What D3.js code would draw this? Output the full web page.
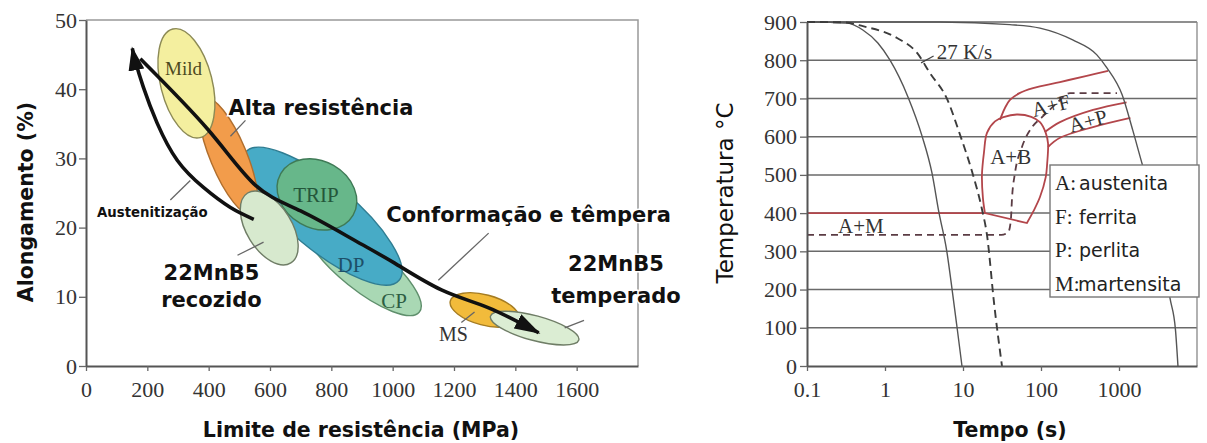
<!DOCTYPE html>
<html><head><meta charset="utf-8">
<script src="https://cdn.jsdelivr.net/npm/d3@7"></script>
<style>
html,body{margin:0;padding:0;background:#fff;}
svg{display:block;}
</style></head>
<body>
<svg id="chart" width="1207" height="443"></svg>
<script>
// ---------- Left panel: elongation vs tensile strength ----------
const strengthTicks = [0, 200, 400, 600, 800, 1000, 1200, 1400, 1600];
const elongationTicks = [0, 10, 20, 30, 40, 50];

// steel families, drawn back to front
const steelNames = ["CP", "DP", "TRIP", "HSS", "Mild", "22MnB5 recozido", "MS", "22MnB5 temperado"];
// ends of each family's long axis [MPa, %]
const steelAxisStart = [[717, 21.0], [520, 30.9], [635, 27.8], [386, 38.7], [283, 48.7], [527, 25.0], [1188, 9.4], [1319, 7.2]];
const steelAxisEnd   = [[1087, 7.8], [1021, 12.4], [871, 21.8], [543, 21.9], [372, 33.0], [668, 14.9], [1411, 6.8], [1607, 3.75]];
// short axis / long axis
const steelSpread = [0.32, 0.33, 0.8, 0.29, 0.46, 0.55, 0.43, 0.27];

// process arrows [MPa, %]
const austenitizing = [[547, 21.2], [471, 22.9], [383, 25.8], [298, 29.7], [232, 35.1], [187, 40.3], [160, 44.2], [151, 45.9]];
const formingQuench = [[177, 44.4], [399, 34.1], [553, 26.1], [700, 22.4], [874, 18.2], [1005, 14.9], [1159, 11.0], [1313, 8.4], [1476, 4.8]];

// ---------- Right panel: CCT diagram ----------
const tempTicks = [0, 100, 200, 300, 400, 500, 600, 700, 800, 900];
const timeTicks = [0.1, 1, 10, 100, 1000];

// cooling curves [s, °C]
const fastCooling = [[0.1, 900], [0.2, 899], [0.33, 897], [0.52, 879], [0.81, 845], [1.16, 800], [1.97, 704], [2.98, 602], [4.0, 505], [4.9, 403], [6.2, 300], [7.25, 200], [8.4, 100], [9.7, 0]];
const cooling27 = [[0.1, 900], [0.3, 899], [0.52, 889], [1.43, 858], [2.58, 819], [3.78, 766], [6.2, 700], [9.16, 605], [13.0, 510], [17.5, 410], [20.3, 343], [25, 165], [31.6, 0]];
const slowCooling = [[0.1, 900], [5, 900], [40, 893], [97, 884], [255, 853], [520, 814], [700, 780], [1100, 709], [1500, 617], [2000, 526], [3100, 400], [4500, 178], [5300, 94], [5700, 0]];

// transformation lines [s, °C]
const martensiteStart = [[0.1, 400], [19, 400]];
const bainiteField = [[19.1, 400], [18.0, 440], [17.5, 500], [18.6, 560], [20.3, 610], [25.7, 640], [33, 651], [49, 658], [75, 652], [97, 638], [115, 610], [123, 583], [120, 530], [115, 494], [97, 442], [80, 405], [66, 374]];
const ferriteStart = [[29.8, 644], [34.5, 675], [40, 696], [53, 714], [79, 727], [175, 743], [386, 759], [723, 772]];
const pearliteStart = [[112, 612], [175, 638], [464, 670], [1250, 690]];
const pearliteFinish = [[123, 573], [175, 597], [464, 625], [1400, 649]];
const msDashed = [[0.1, 343], [31, 343], [38, 350], [41, 380], [42.6, 442], [46.4, 505], [57, 573], [77, 625], [103, 651], [151, 683], [235, 714], [943, 714]];

const legendKeys = ["A:", "F:", "P:", "M:"];
const legendNames = ["austenita", "ferrita", "perlita", "martensita"];

// ---------------------------------------------------------------
const svg = d3.select("#chart");
const SANS = "DejaVu Sans";
const SERIF = "Liberation Serif";

const fills = {"CP": "#a9d8b4", "DP": "#47abc6", "TRIP": "#67b78a", "HSS": "#f29c4b", "Mild": "#f4ef9f",
  "22MnB5 recozido": "#d7e9ce", "MS": "#f2bb3b", "22MnB5 temperado": "#dbedd3"};
const strokes = {"CP": "#5f8f6c", "DP": "#2f7d92", "TRIP": "#3f7a56", "HSS": "#b06e2d", "Mild": "#8c8a55",
  "22MnB5 recozido": "#6f7d66", "MS": "#a57c22", "22MnB5 temperado": "#6f7d66"};

const xL = d3.scaleLinear().domain([0, 1800]).range([86, 638]);
const yL = d3.scaleLinear().domain([0, 50]).range([366, 20]);

const left = svg.append("g");

// frame
left.append("path")
  .attr("d", `M${xL(0)},${yL(50)}H${xL(1800)}V${yL(0)}`)
  .attr("fill", "none").attr("stroke", "#999").attr("stroke-width", 1.5);

// steel family regions
steelNames.forEach((name, i) => {
  const p1 = [xL(steelAxisStart[i][0]), yL(steelAxisStart[i][1])];
  const p2 = [xL(steelAxisEnd[i][0]), yL(steelAxisEnd[i][1])];
  const cx = (p1[0] + p2[0]) / 2, cy = (p1[1] + p2[1]) / 2;
  const a = Math.hypot(p2[0] - p1[0], p2[1] - p1[1]) / 2;
  const ang = Math.atan2(p2[1] - p1[1], p2[0] - p1[0]) * 180 / Math.PI;
  left.append("ellipse")
    .attr("transform", `translate(${cx},${cy}) rotate(${ang})`)
    .attr("rx", a).attr("ry", a * steelSpread[i])
    .attr("fill", fills[name]).attr("stroke", strokes[name]).attr("stroke-width", 1.4);
});

// labels inside regions
const regionLabels = [
  {t: "Mild", v: [318, 42.0], c: "#4d4a1e", s: 19},
  {t: "TRIP", v: [750, 23.7], c: "#24563a", s: 21},
  {t: "DP", v: [864, 13.6], c: "#1d4f68", s: 21},
  {t: "CP", v: [1005, 8.4], c: "#2d5e43", s: 21},
  {t: "MS", v: [1198, 3.6], c: "#333", s: 20}
];
regionLabels.forEach(d => {
  left.append("text").attr("x", xL(d.v[0])).attr("y", yL(d.v[1]))
    .attr("text-anchor", "middle").attr("font-family", SERIF).attr("font-size", d.s)
    .attr("fill", d.c).text(d.t);
});

// leader lines [MPa, %]
const leaders = [
  [[520, 35.5], [471, 33.2]],
  [[340, 26.8], [275, 24.0]],
  [[1313, 19.2], [1149, 12.4]],
  [[579, 17.9], [494, 16.0]],
  [[1624, 6.6], [1561, 5.5]],
  [[1224, 6.3], [1267, 7.8]]
];
leaders.forEach(l => {
  left.append("line").attr("x1", xL(l[0][0])).attr("y1", yL(l[0][1]))
    .attr("x2", xL(l[1][0])).attr("y2", yL(l[1][1]))
    .attr("stroke", "#666").attr("stroke-width", 1.3);
});

// arrowheads
const defs = svg.append("defs");
defs.append("marker").attr("id", "headUp").attr("viewBox", "0 0 24 16")
  .attr("refX", 22).attr("refY", 8).attr("markerWidth", 24).attr("markerHeight", 16)
  .attr("markerUnits", "userSpaceOnUse").attr("orient", "auto")
  .append("path").attr("d", "M0,0L24,8L0,16Z").attr("fill", "#111");
defs.append("marker").attr("id", "headDown").attr("viewBox", "0 0 26 16")
  .attr("refX", 24).attr("refY", 8).attr("markerWidth", 26).attr("markerHeight", 16)
  .attr("markerUnits", "userSpaceOnUse").attr("orient", "auto")
  .append("path").attr("d", "M0,0L26,8L0,16Z").attr("fill", "#111");

const arrowLine = d3.line().x(d => xL(d[0])).y(d => yL(d[1])).curve(d3.curveNatural);
left.append("path").attr("d", arrowLine(austenitizing))
  .attr("fill", "none").attr("stroke", "#111").attr("stroke-width", 3.6)
  .attr("marker-end", "url(#headUp)");
left.append("path").attr("d", arrowLine(formingQuench))
  .attr("fill", "none").attr("stroke", "#111").attr("stroke-width", 3.6)
  .attr("marker-end", "url(#headDown)");

// annotation texts
const notes = [
  {t: "Alta resistência", v: [465, 36.2], a: "start", s: 21},
  {t: "Austenitização", v: [36, 21.5], a: "start", s: 13.3},
  {t: "Conformação e têmpera", v: [979, 20.8], a: "start", s: 21},
  {t: "22MnB5", v: [409, 12.4], a: "middle", s: 21},
  {t: "recozido", v: [409, 8.5], a: "middle", s: 21},
  {t: "22MnB5", v: [1728, 13.7], a: "middle", s: 21},
  {t: "temperado", v: [1728, 9.1], a: "middle", s: 21}
];
notes.forEach(d => {
  left.append("text").attr("x", xL(d.v[0])).attr("y", yL(d.v[1]))
    .attr("text-anchor", d.a).attr("font-family", SANS).attr("font-weight", "bold")
    .attr("font-size", d.s).attr("fill", "#111")
    .attr("paint-order", "stroke").attr("stroke", "#fff").attr("stroke-width", 3)
    .text(d.t);
});

// axes
function styleAxis(g) {
  g.select(".domain").attr("stroke", "#555").attr("stroke-width", 2);
  g.selectAll(".tick line").attr("stroke", "#666").attr("stroke-width", 1.3);
  g.selectAll(".tick text").attr("font-family", SERIF).attr("font-size", 22).attr("fill", "#333");
}
left.append("g").attr("transform", `translate(0,${yL(0)})`)
  .call(d3.axisBottom(xL).tickValues(strengthTicks).tickFormat(d => String(d))
    .tickSize(5).tickSizeOuter(0).tickPadding(10))
  .call(styleAxis);
left.append("g").attr("transform", `translate(${xL(0)},0)`)
  .call(d3.axisLeft(yL).tickValues(elongationTicks).tickSize(7).tickSizeOuter(0).tickPadding(2))
  .call(styleAxis);

left.append("text").attr("transform", `translate(33,202) rotate(-90)`)
  .attr("text-anchor", "middle").attr("font-family", SANS).attr("font-weight", "bold")
  .attr("font-size", 20.5).attr("fill", "#111").text("Alongamento (%)");
left.append("text").attr("x", 361).attr("y", 437)
  .attr("text-anchor", "middle").attr("font-family", SANS).attr("font-weight", "bold")
  .attr("font-size", 20.5).attr("fill", "#111").text("Limite de resistência (MPa)");

// ---------- right panel ----------
const xR = d3.scaleLog().domain([0.1, 10000]).range([807, 1197]);
const yR = d3.scaleLinear().domain([0, 900]).range([366, 22]);
const right = svg.append("g");

// horizontal grid and frame
right.selectAll("line.grid").data(tempTicks.filter(t => t > 0)).join("line")
  .attr("x1", xR(0.1)).attr("x2", xR(10000))
  .attr("y1", d => yR(d)).attr("y2", d => yR(d))
  .attr("stroke", "#6a6a6a").attr("stroke-width", 1.5);
right.append("line").attr("x1", xR(10000)).attr("x2", xR(10000))
  .attr("y1", yR(900)).attr("y2", yR(0)).attr("stroke", "#888").attr("stroke-width", 1.3);

const cct = d3.line().x(d => xR(d[0])).y(d => yR(d[1])).curve(d3.curveMonotoneX);
const smooth = d3.line().x(d => xR(d[0])).y(d => yR(d[1])).curve(d3.curveCatmullRom.alpha(0.5));

const RED = "#b3464b";
// transformation lines
right.append("path").attr("d", cct(martensiteStart)).attr("fill", "none")
  .attr("stroke", RED).attr("stroke-width", 1.8);
right.append("path").attr("d", smooth(bainiteField) + "Z").attr("fill", "none")
  .attr("stroke", RED).attr("stroke-width", 1.8);
[ferriteStart, pearliteStart, pearliteFinish].forEach(s => {
  right.append("path").attr("d", smooth(s)).attr("fill", "none")
    .attr("stroke", RED).attr("stroke-width", 1.8);
});
right.append("path").attr("d", cct(msDashed)).attr("fill", "none")
  .attr("stroke", "#5b3c44").attr("stroke-width", 1.8).attr("stroke-dasharray", "7,5");

// cooling curves
right.append("path").attr("d", cct(fastCooling)).attr("fill", "none")
  .attr("stroke", "#555").attr("stroke-width", 1.4);
right.append("path").attr("d", cct(slowCooling)).attr("fill", "none")
  .attr("stroke", "#555").attr("stroke-width", 1.4);
right.append("path").attr("d", cct(cooling27)).attr("fill", "none")
  .attr("stroke", "#3c3c3c").attr("stroke-width", 1.9).attr("stroke-dasharray", "8,5");

// labels
right.append("line").attr("x1", xR(2.9)).attr("y1", yR(793)).attr("x2", xR(4.2)).attr("y2", yR(811))
  .attr("stroke", "#444").attr("stroke-width", 1.2);
right.append("text").attr("x", xR(4.6)).attr("y", yR(803))
  .attr("font-family", SERIF).attr("font-size", 21).attr("fill", "#333").text("27 K/s");

const phaseLabels = [
  {t: "A+M", v: [0.25, 348], r: 0},
  {t: "A+B", v: [22.3, 528], r: 0},
  {t: "A+F", v: [81, 651], r: -14},
  {t: "A+P", v: [243, 610], r: -15}
];
phaseLabels.forEach(d => {
  right.append("text")
    .attr("transform", `translate(${xR(d.v[0])},${yR(d.v[1])}) rotate(${d.r})`)
    .attr("font-family", SERIF).attr("font-size", 21).attr("fill", "#333").text(d.t);
});

// legend
const lg = right.append("g").attr("transform", "translate(1050,165)");
lg.append("rect").attr("width", 149).attr("height", 132)
  .attr("fill", "#fff").attr("stroke", "#777").attr("stroke-width", 1.4);
legendKeys.forEach((k, i) => {
  const y = 25 + i * 33.5;
  lg.append("text").attr("x", 5).attr("y", y).attr("font-family", SERIF)
    .attr("font-size", 21).attr("fill", "#222").text(k);
  lg.append("text").attr("x", i === 3 ? 28 : 29).attr("y", y).attr("font-family", SANS)
    .attr("font-size", 19).attr("fill", "#222").text(legendNames[i]);
});

// axes
right.append("g").attr("transform", `translate(0,${yR(0)})`)
  .call(d3.axisBottom(xR).tickValues(timeTicks).tickFormat(d => String(d))
    .tickSize(5).tickSizeOuter(0).tickPadding(10))
  .call(styleAxis);
right.append("g").attr("transform", `translate(${xR(0.1)},0)`)
  .call(d3.axisLeft(yR).tickValues(tempTicks).tickSize(7).tickSizeOuter(0).tickPadding(3))
  .call(styleAxis);

right.append("text").attr("transform", `translate(733,193) rotate(-90)`)
  .attr("text-anchor", "middle").attr("font-family", SANS)
  .attr("font-size", 23).attr("fill", "#111").text("Temperatura °C");
right.append("text").attr("x", 1010).attr("y", 437)
  .attr("text-anchor", "middle").attr("font-family", SANS).attr("font-weight", "bold")
  .attr("font-size", 20.5).attr("fill", "#111").text("Tempo (s)");
</script>
</body></html>
